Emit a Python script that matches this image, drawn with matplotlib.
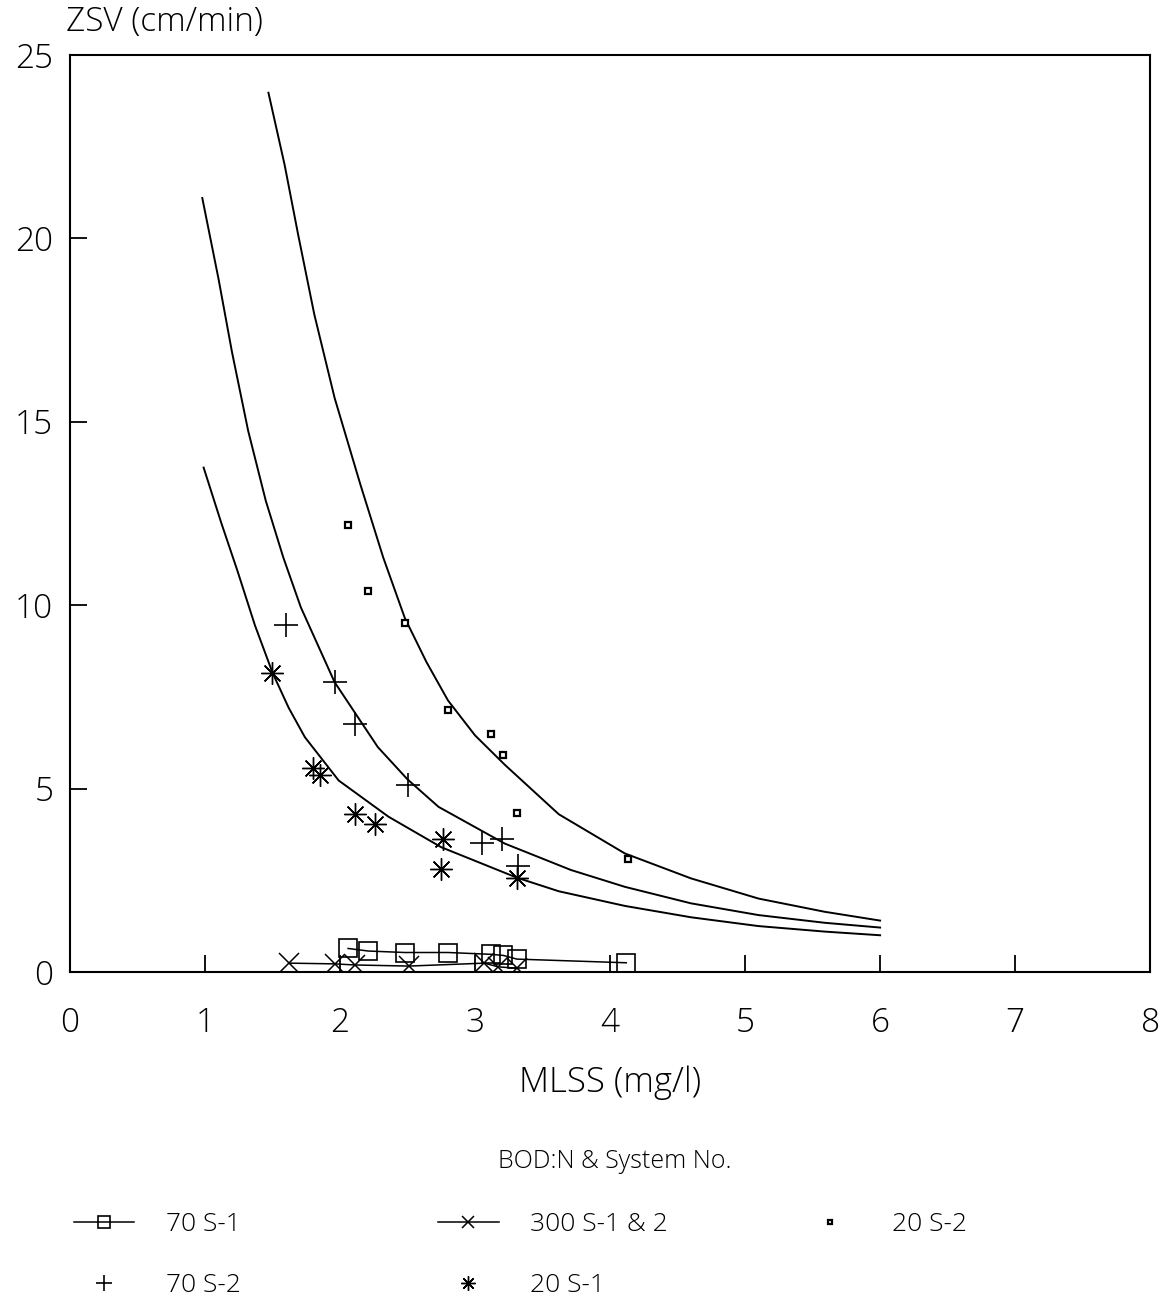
import matplotlib
matplotlib.use("Agg")
import matplotlib.pyplot as plt

plt.rcParams['font.family'] = ['Open Sans', 'DejaVu Sans']
plt.rcParams['font.weight'] = 'light'
plt.rcParams['axes.labelweight'] = 'light'

# fitted curves
top_x = [1.47, 1.59, 1.69, 1.81, 1.96, 2.15, 2.32, 2.48, 2.64, 2.80, 3.00, 3.22, 3.62, 4.11, 4.60, 5.10, 5.59, 6.0]
top_y = [23.97, 22.0, 20.1, 17.92, 15.65, 13.3, 11.3, 9.65, 8.45, 7.4, 6.45, 5.65, 4.30, 3.23, 2.55, 2.0, 1.64, 1.40]
mid_x = [0.98, 1.10, 1.20, 1.32, 1.45, 1.58, 1.71, 1.96, 2.28, 2.50, 2.73, 3.22, 3.71, 4.11, 4.60, 5.10, 5.59, 6.0]
mid_y = [21.1, 18.9, 16.9, 14.75, 12.85, 11.3, 9.94, 7.9, 6.13, 5.25, 4.50, 3.50, 2.78, 2.32, 1.87, 1.55, 1.34, 1.21]
low_x = [0.99, 1.12, 1.24, 1.37, 1.50, 1.62, 1.74, 1.99, 2.36, 2.75, 3.31, 3.62, 4.11, 4.60, 5.10, 5.59, 6.0]
low_y = [13.75, 12.25, 10.94, 9.45, 8.16, 7.20, 6.40, 5.22, 4.23, 3.40, 2.57, 2.20, 1.80, 1.49, 1.25, 1.10, 1.0]

# measured points
s1_70_x = [2.06, 2.21, 2.48, 2.80, 3.12, 3.21, 3.31, 4.12]
s1_70_y = [0.64, 0.57, 0.53, 0.53, 0.48, 0.45, 0.35, 0.25]
s300_x = [1.62, 1.96, 2.11, 2.51, 3.07, 3.17, 3.31]
s300_y = [0.24, 0.22, 0.19, 0.16, 0.24, 0.14, 0.10]
s2_20_x = [2.06, 2.21, 2.48, 2.80, 3.12, 3.21, 3.31, 4.13]
s2_20_y = [12.18, 10.39, 9.50, 7.13, 6.50, 5.91, 4.34, 3.07]
s2_70_x = [1.60, 1.96, 2.11, 2.50, 3.05, 3.20, 3.32]
s2_70_y = [9.46, 7.90, 6.77, 5.11, 3.52, 3.62, 2.90]
s1_20_x = [1.50, 1.80, 1.85, 2.11, 2.26, 2.76, 2.75, 3.31]
s1_20_y = [8.16, 5.57, 5.38, 4.30, 4.03, 3.62, 2.82, 2.57]

star = (8, 2, 0)

fig = plt.figure(figsize=(11.64, 13.02), dpi=100)
ax = fig.add_axes([0.0601, 0.2535, 0.928, 0.7043])

for cx, cy in [(top_x, top_y), (mid_x, mid_y), (low_x, low_y)]:
    ax.plot(cx, cy, color='black', lw=1.4)

h1, = ax.plot(s1_70_x, s1_70_y, color='black', lw=1.1, marker='s', ms=13,
              mfc='none', mec='black', mew=1.2)
h2, = ax.plot(s300_x, s300_y, color='black', lw=1.1, marker='x', ms=14, mew=1.1)
h3, = ax.plot(s2_20_x, s2_20_y, ls='none', marker='s', ms=4.5, mfc='white',
              mec='black', mew=1.6)
h4, = ax.plot(s2_70_x, s2_70_y, ls='none', marker='+', ms=17, mew=1.2, color='black')
h5, = ax.plot(s1_20_x, s1_20_y, ls='none', marker=star, ms=16, mew=1.0, color='black')

ax.set_xlim(0, 8)
ax.set_ylim(0, 25)
ax.set_xticks(range(0, 9))
ax.set_yticks(range(0, 26, 5))
ax.tick_params(direction='in', length=12, width=1.3, labelsize=24)
ax.tick_params(axis='x', pad=25)
ax.tick_params(axis='y', pad=12)
for s in ax.spines.values():
    s.set_linewidth(1.5)

ax.set_xlabel('MLSS (mg/l)', fontsize=25, labelpad=18, fontweight='light')
fig.text(0.057, 1 - 22 / 1302, 'ZSV (cm/min)', fontsize=24, va='center', ha='left')

fig.text(0.528, 1 - 1162 / 1302, 'BOD:N & System No.', fontsize=18, ha='center', va='center')

leg_kw = dict(frameon=False, fontsize=19, handlelength=2.3, handletextpad=1.2,
              labelspacing=1.35, markerscale=0.65, loc='upper left')
fig.legend(handles=[h1, h4], labels=['70 S-1', '70 S-2'],
           bbox_to_anchor=(0.043, 0.087), **leg_kw)
fig.legend(handles=[h2, h5], labels=['300 S-1 & 2', '20 S-1'],
           bbox_to_anchor=(0.356, 0.087), **leg_kw)
fig.legend(handles=[h3], labels=['20 S-2'],
           bbox_to_anchor=(0.667, 0.087), **leg_kw)

fig.savefig('out.png', dpi=100)
